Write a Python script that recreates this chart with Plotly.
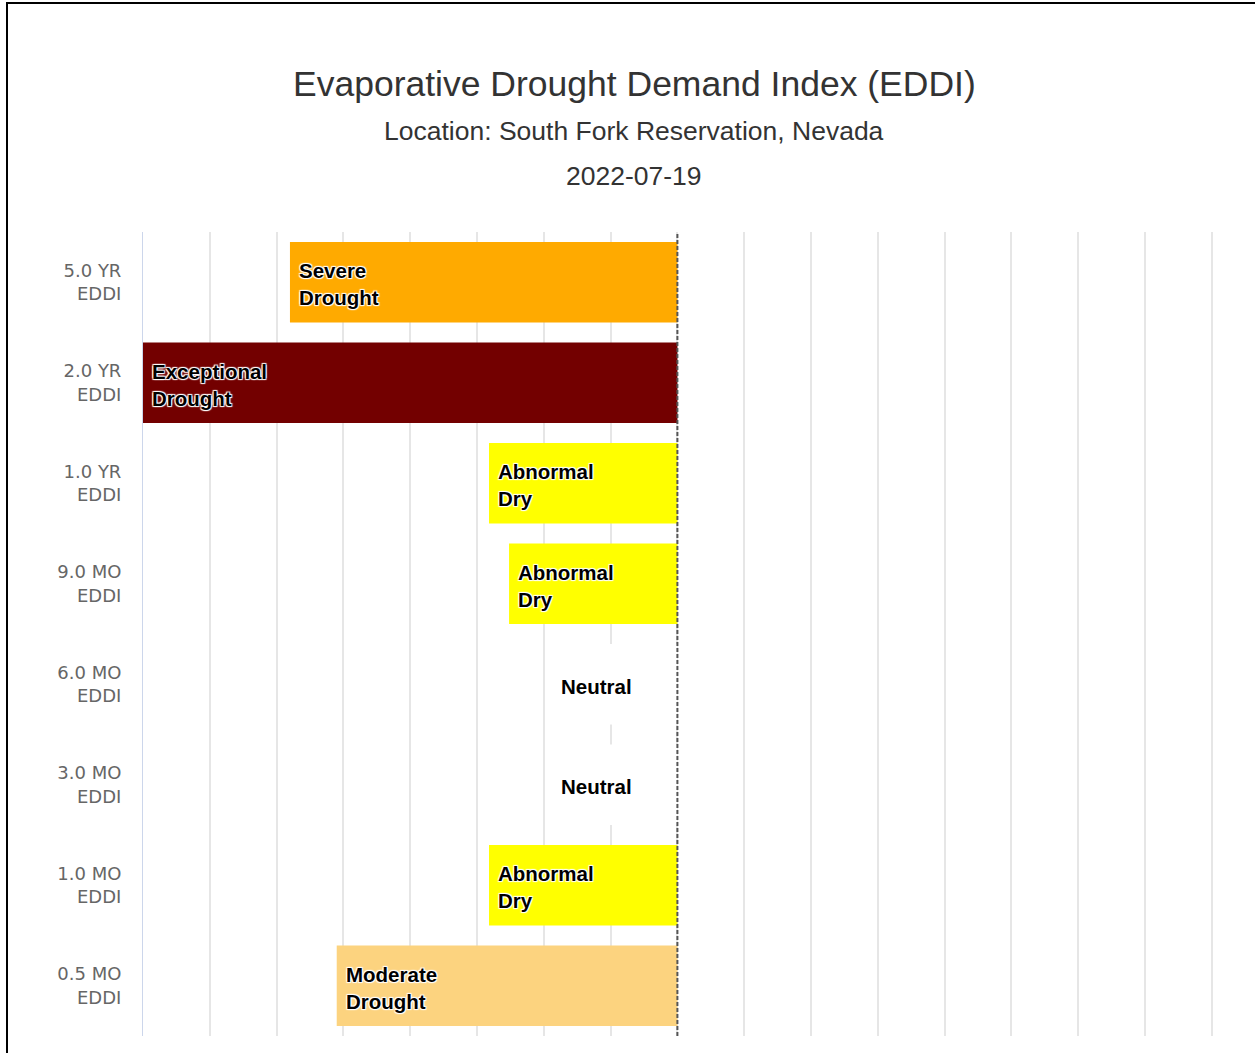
import plotly.graph_objects as go

# EDDI values per accumulation period (negative = drier)
periods = ["5.0 YR", "2.0 YR", "1.0 YR", "9.0 MO", "6.0 MO", "3.0 MO", "1.0 MO", "0.5 MO"]
eddi_values = [-2.9, -4.0, -1.41, -1.26, -0.94, -0.94, -1.41, -2.55]
categories = [
    "Severe Drought", "Exceptional Drought", "Abnormal Dry", "Abnormal Dry",
    "Neutral", "Neutral", "Abnormal Dry", "Moderate Drought",
]

category_colors = {
    "Neutral": "#FFFFFF",
    "Abnormal Dry": "#FFFF00",
    "Moderate Drought": "#FCD37F",
    "Severe Drought": "#FFAA00",
    "Extreme Drought": "#E60000",
    "Exceptional Drought": "#730000",
}

title_text = "Evaporative Drought Demand Index (EDDI)"
location_text = "Location: South Fork Reservation, Nevada"
date_text = "2022-07-19"

# figure geometry (pixels)
W, H = 1255, 1053
ML, MR, MT, MB = 143, 0, 232, 17
PW, PH = W - ML - MR, H - MT - MB
PX_PER_UNIT = 133.6


def px_x(px):
    return (px - ML) / PW


def px_y(py):
    return (H - MB - py) / PH


tick_labels = [p + "<br>EDDI" for p in periods]
label_text = [c.replace(" ", "<br>") for c in categories]

fig = go.Figure()
fig.add_trace(go.Bar(
    y=periods,
    x=eddi_values,
    orientation="h",
    width=0.8,
    marker=dict(color=[category_colors[c] for c in categories], line=dict(width=0)),
    hovertext=categories,
    showlegend=False,
))

halo = "1px 1px 1px #fff, -1px -1px 1px #fff, 1px -1px 1px #fff, -1px 1px 1px #fff"
for p, v, t in zip(periods, eddi_values, label_text):
    fig.add_annotation(
        x=v, y=p, xref="x", yref="y", text=t, showarrow=False,
        xanchor="left", yanchor="middle", align="left", xshift=7, yshift=-2,
        font=dict(family="Liberation Sans, Arial, sans-serif", size=20.5,
                  color="#000000", weight="bold", shadow=halo),
    )

# headings
for txt, py, size in [(title_text, 84, 35.5), (location_text, 131, 26.5), (date_text, 176, 26.5)]:
    fig.add_annotation(
        x=px_x(634), y=px_y(py), xref="paper", yref="paper", text=txt,
        showarrow=False, xanchor="center", yanchor="middle",
        font=dict(family="Liberation Sans, Arial, sans-serif", size=size, color="#333333"),
    )

# zero reference line
fig.add_shape(type="line", x0=0, x1=0, xref="x", y0=0, y1=1, yref="paper",
              line=dict(color="#555555", width=2, dash="4px,2px"), layer="above")

# outer frame (top and left edges)
fig.add_shape(type="line", xref="paper", yref="paper",
              x0=px_x(7), x1=px_x(7), y0=px_y(2), y1=px_y(H + 5),
              line=dict(color="#000000", width=2))
fig.add_shape(type="line", xref="paper", yref="paper",
              x0=px_x(6), x1=px_x(W + 5), y0=px_y(3), y1=px_y(3),
              line=dict(color="#000000", width=2))

fig.update_layout(
    width=W, height=H, autosize=False,
    margin=dict(l=ML, r=MR, t=MT, b=MB, pad=0),
    paper_bgcolor="#FFFFFF", plot_bgcolor="#FFFFFF",
    bargap=0.2,
    xaxis=dict(
        range=[-4, -4 + PW / PX_PER_UNIT],
        tick0=0, dtick=0.5,
        showgrid=True, gridcolor="#e6e6e6", gridwidth=1.5,
        zeroline=False, showticklabels=False, ticks="",
        fixedrange=True,
    ),
    yaxis=dict(
        type="category",
        categoryorder="array", categoryarray=periods,
        range=[len(periods) - 0.5, -0.5],
        tickmode="array", tickvals=periods, ticktext=tick_labels,
        tickfont=dict(family="DejaVu Sans, Verdana, sans-serif", size=18, color="#666666"),
        ticks="", ticklabelstandoff=17,
        showgrid=False, zeroline=False,
        showline=True, linecolor="#ccd6eb", linewidth=1,
        fixedrange=True,
    ),
)

fig.write_html("out.html")
